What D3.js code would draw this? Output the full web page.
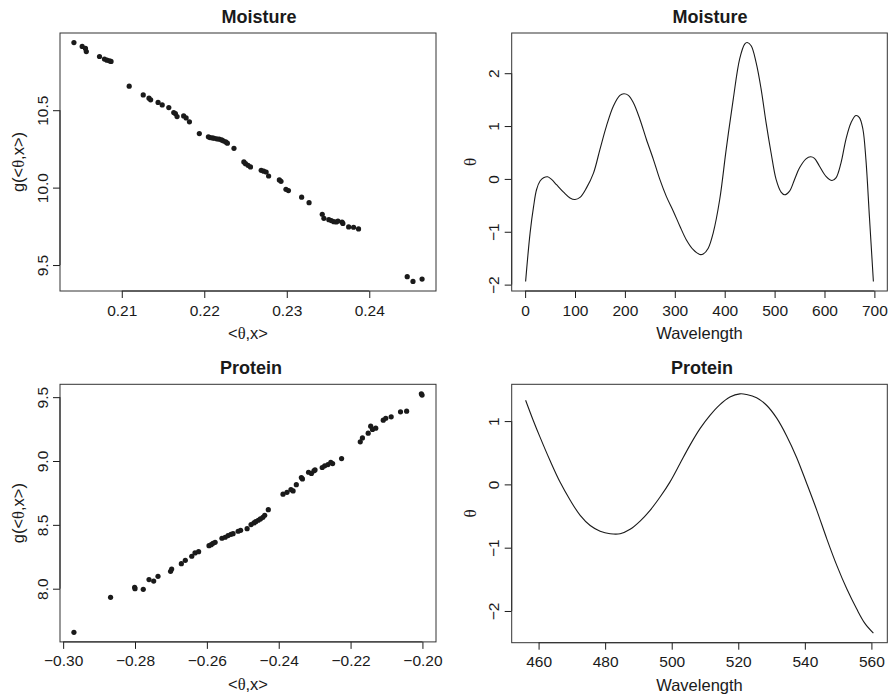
<!DOCTYPE html>
<html>
<head>
<meta charset="utf-8">
<script src="https://cdn.jsdelivr.net/npm/d3@7"></script>
<style>
  body { margin: 0; background: #fff; }
  svg text { font-family: "Liberation Sans", Arial, Helvetica, sans-serif; fill: #1a1a1a; }
</style>
</head>
<body>
<svg id="chart" width="893" height="698"></svg>
<script>
// ---- data ----
var moistureIndex = [0.2042,0.2052,0.2056,0.2057,0.2073,0.2079,0.2082,0.2085,0.2087,0.2109,
  0.2126,0.2133,0.2135,0.2144,0.2149,0.2157,0.2163,0.2165,0.2167,0.2175,0.2178,0.2182,0.2194,
  0.2205,0.2207,0.2210,0.2212,0.2215,0.2218,0.2221,0.2223,0.2226,0.2228,0.2236,0.2248,0.2250,
  0.2253,0.2256,0.2269,0.2272,0.2275,0.2278,0.2291,0.2293,0.2299,0.2302,0.2318,0.2327,0.2343,
  0.2345,0.2351,0.2354,0.2357,0.2360,0.2362,0.2367,0.2368,0.2375,0.2381,0.2387,0.2446,0.2453,0.2464];
var moistureFit = [10.937,10.912,10.899,10.879,10.847,10.830,10.823,10.819,10.815,10.655,
  10.599,10.578,10.567,10.550,10.534,10.517,10.485,10.478,10.459,10.463,10.450,10.425,10.349,
  10.328,10.323,10.321,10.319,10.315,10.313,10.308,10.302,10.295,10.287,10.254,10.166,10.155,
  10.144,10.134,10.112,10.106,10.101,10.075,10.050,10.041,9.989,9.981,9.938,9.903,9.828,
  9.802,9.793,9.787,9.780,9.778,9.784,9.778,9.769,9.746,9.744,9.733,9.425,9.394,9.409];

var proteinIndex = [-0.2970,-0.2868,-0.2801,-0.2800,-0.2777,-0.2761,-0.2748,-0.2736,-0.2701,-0.2698,
  -0.2671,-0.2660,-0.2642,-0.2633,-0.2623,-0.2594,-0.2588,-0.2583,-0.2577,-0.2558,-0.2549,-0.2541,
  -0.2533,-0.2527,-0.2513,-0.2506,-0.2488,-0.2477,-0.2469,-0.2464,-0.2457,-0.2451,-0.2444,-0.2439,
  -0.2429,-0.2388,-0.2377,-0.2366,-0.2360,-0.2351,-0.2337,-0.2334,-0.2317,-0.2309,-0.2302,-0.2299,
  -0.2279,-0.2272,-0.2263,-0.2255,-0.2250,-0.2225,-0.2173,-0.2167,-0.2151,-0.2144,-0.2139,-0.2130,
  -0.2109,-0.2102,-0.2087,-0.2061,-0.2044,-0.2003,-0.2001];
var proteinFit = [7.658,7.932,8.011,8.000,7.995,8.071,8.060,8.097,8.136,8.154,
  8.196,8.222,8.254,8.280,8.290,8.337,8.345,8.355,8.363,8.395,8.403,8.416,
  8.426,8.431,8.450,8.457,8.470,8.502,8.515,8.525,8.536,8.546,8.559,8.575,
  8.619,8.740,8.755,8.776,8.766,8.815,8.870,8.860,8.912,8.902,8.923,8.930,
  8.949,8.962,8.972,8.990,8.980,9.019,9.150,9.181,9.218,9.273,9.247,9.257,
  9.320,9.335,9.346,9.385,9.390,9.526,9.516];

var moistureWave = [1,10,17,23,30,37,45,53,63,77,90,100,110,123,137,150,163,177,190,198,207,217,
  230,243,257,270,283,297,310,323,337,350,357,367,377,390,403,417,430,440,445,453,463,473,483,
  493,503,513,520,530,540,550,563,572,580,590,603,615,623,633,643,653,663,670,677,683,690,698];
var moistureTheta = [-1.94,-1.02,-0.52,-0.20,-0.04,0.02,0.04,-0.01,-0.11,-0.25,-0.36,-0.39,-0.35,
  -0.17,0.11,0.56,1.00,1.38,1.58,1.61,1.58,1.44,1.13,0.75,0.37,-0.01,-0.33,-0.61,-0.89,-1.15,
  -1.34,-1.43,-1.42,-1.31,-1.02,-0.39,0.56,1.50,2.27,2.55,2.58,2.52,2.20,1.70,1.06,0.49,-0.01,
  -0.25,-0.30,-0.23,-0.01,0.21,0.38,0.42,0.39,0.24,0.05,-0.03,0.02,0.30,0.75,1.06,1.20,1.16,
  0.94,0.37,-0.71,-1.94];

var proteinWave = [456.1,458.4,460.4,463.4,466.4,469.5,472.5,475.5,478.5,481.5,484.5,487.5,490.5,
  493.5,496.5,499.5,502.5,505.5,508.5,511.5,514.5,517.5,520.5,522.5,525.5,528.5,531.5,534.5,
  537.5,540.6,543.6,546.6,549.6,552.6,555.6,558.1,560.6];
var proteinTheta = [1.33,1.01,0.75,0.38,0.04,-0.25,-0.49,-0.65,-0.74,-0.78,-0.78,-0.71,-0.58,
  -0.41,-0.20,0.04,0.33,0.62,0.88,1.09,1.26,1.38,1.43,1.42,1.37,1.25,1.05,0.77,0.43,0.01,
  -0.41,-0.86,-1.28,-1.65,-1.97,-2.20,-2.35];

var moistureIndexTicks = [0.21, 0.22, 0.23, 0.24];
var moistureFitTicks = [9.5, 10.0, 10.5];
var moistureWaveTicks = [0, 100, 200, 300, 400, 500, 600, 700];
var moistureThetaTicks = [-2, -1, 0, 1, 2];
var proteinIndexTicks = [-0.30, -0.28, -0.26, -0.24, -0.22, -0.20];
var proteinFitTicks = [8.0, 8.5, 9.0, 9.5];
var proteinWaveTicks = [460, 480, 500, 520, 540, 560];
var proteinThetaTicks = [-2, -1, 0, 1];

// ---- layout ----
var svg = d3.select('#chart');
var ink = '#1a1a1a';

// R style: data range padded by 4% on each side
var pad = function(ext){
  var d = (ext[1] - ext[0]) * 0.04;
  return [ext[0] - d, ext[1] + d];
};

var panels = [
  { title: 'Moisture', left: 60, top: 33, w: 376, h: 258, titleX: 259,
    xs: moistureIndex, ys: moistureFit, kind: 'points',
    xTicks: moistureIndexTicks, yTicks: moistureFitTicks,
    xFmt: d3.format('.2f'), yFmt: d3.format('.1f'), xLab: 'index', yLab: 'g' },
  { title: 'Moisture', left: 511.7, top: 33, w: 375.6, h: 258, titleX: 710,
    xs: moistureWave, ys: moistureTheta, kind: 'line',
    xTicks: moistureWaveTicks, yTicks: moistureThetaTicks,
    xFmt: d3.format('d'), yFmt: d3.format('d'), xLab: 'Wavelength', yLab: 'theta' },
  { title: 'Protein', left: 60, top: 384.3, w: 376, h: 257.6, titleX: 251,
    xs: proteinIndex, ys: proteinFit, kind: 'points',
    xTicks: proteinIndexTicks, yTicks: proteinFitTicks,
    xFmt: d3.format('.2f'), yFmt: d3.format('.1f'), xLab: 'index', yLab: 'g' },
  { title: 'Protein', left: 511.7, top: 384.3, w: 375.6, h: 258.4, titleX: 702,
    xs: proteinWave, ys: proteinTheta, kind: 'line',
    xTicks: proteinWaveTicks, yTicks: proteinThetaTicks,
    xFmt: d3.format('d'), yFmt: d3.format('d'), xLab: 'Wavelength', yLab: 'theta' }
];

// labels with a serif theta like the R symbol font
var writeLabel = function(text, which){
  var serif = '"Liberation Serif", "DejaVu Serif", serif';
  if (which === 'Wavelength') {
    text.text('Wavelength');
  } else if (which === 'theta') {
    text.append('tspan').style('font-family', serif).style('font-size', '17px').text('θ');
  } else if (which === 'index') {
    text.append('tspan').text('<');
    text.append('tspan').style('font-family', serif).text('θ');
    text.append('tspan').text(',x>');
  } else {
    text.append('tspan').text('g(<');
    text.append('tspan').style('font-family', serif).text('θ');
    text.append('tspan').text(',x>)');
  }
};

panels.forEach(function(p){
  var data = p.xs.map(function(v, i){ return { x: v, y: p.ys[i] }; });
  var x = d3.scaleLinear().domain(pad(d3.extent(p.xs))).range([0, p.w]);
  var y = d3.scaleLinear().domain(pad(d3.extent(p.ys))).range([p.h, 0]);

  var g = svg.append('g').attr('transform', 'translate(' + p.left + ',' + p.top + ')');

  // x axis
  var xa = g.append('g')
    .attr('transform', 'translate(0,' + p.h + ')')
    .call(d3.axisBottom(x).tickValues(p.xTicks).tickFormat(p.xFmt).tickSize(7))
    .attr('font-size', null).attr('font-family', null);
  xa.select('.domain').remove();
  xa.selectAll('.tick line').attr('stroke', ink);
  xa.selectAll('.tick text')
    .attr('y', 19).attr('dy', '0.36em')
    .attr('fill', ink).style('font-size', '15.5px');
  xa.append('line')
    .attr('x1', x(p.xTicks[0])).attr('x2', x(p.xTicks[p.xTicks.length - 1]))
    .attr('stroke', ink);

  // y axis, labels turned like R's las = 0
  var ya = g.append('g')
    .call(d3.axisLeft(y).tickValues(p.yTicks).tickFormat(p.yFmt).tickSize(7))
    .attr('font-size', null).attr('font-family', null);
  ya.select('.domain').remove();
  ya.selectAll('.tick line').attr('stroke', ink);
  ya.selectAll('.tick text')
    .attr('x', null).attr('dy', '0.36em')
    .attr('transform', 'translate(-18,0) rotate(-90)')
    .attr('text-anchor', 'middle')
    .attr('fill', ink).style('font-size', '15.5px');
  ya.append('line')
    .attr('y1', y(p.yTicks[0])).attr('y2', y(p.yTicks[p.yTicks.length - 1]))
    .attr('stroke', ink);

  // frame
  g.append('rect')
    .attr('width', p.w).attr('height', p.h)
    .attr('fill', 'none').attr('stroke', '#333').attr('stroke-width', 1);

  if (p.kind === 'points') {
    g.selectAll('circle')
      .data(data)
      .enter()
      .append('circle')
      .attr('cx', function(d){ return x(d.x); })
      .attr('cy', function(d){ return y(d.y); })
      .attr('r', 2.6)
      .style('fill', ink);
  } else {
    var line = d3.line()
      .x(function(d){ return x(d.x); })
      .y(function(d){ return y(d.y); })
      .curve(d3.curveCatmullRom.alpha(0.5));
    g.append('path')
      .datum(data)
      .attr('d', line)
      .attr('fill', 'none')
      .attr('stroke', ink)
      .attr('stroke-width', 1.1);
  }

  // title
  svg.append('text')
    .attr('x', p.titleX).attr('y', p.top - 10)
    .attr('text-anchor', 'middle')
    .style('font-size', '18px').style('font-weight', 'bold')
    .text(p.title);

  // axis titles
  var xt = svg.append('text')
    .attr('x', p.left + p.w / 2).attr('y', p.top + p.h + 42).attr('dy', '0.36em')
    .attr('text-anchor', 'middle').style('font-size', '16.5px');
  writeLabel(xt, p.xLab);

  var yt = svg.append('text')
    .attr('transform', 'translate(' + (p.left - 42) + ',' + (p.top + p.h / 2) + ') rotate(-90)')
    .attr('dy', '0.36em')
    .attr('text-anchor', 'middle').style('font-size', '16.5px');
  writeLabel(yt, p.yLab);
});
</script>
</body>
</html>
